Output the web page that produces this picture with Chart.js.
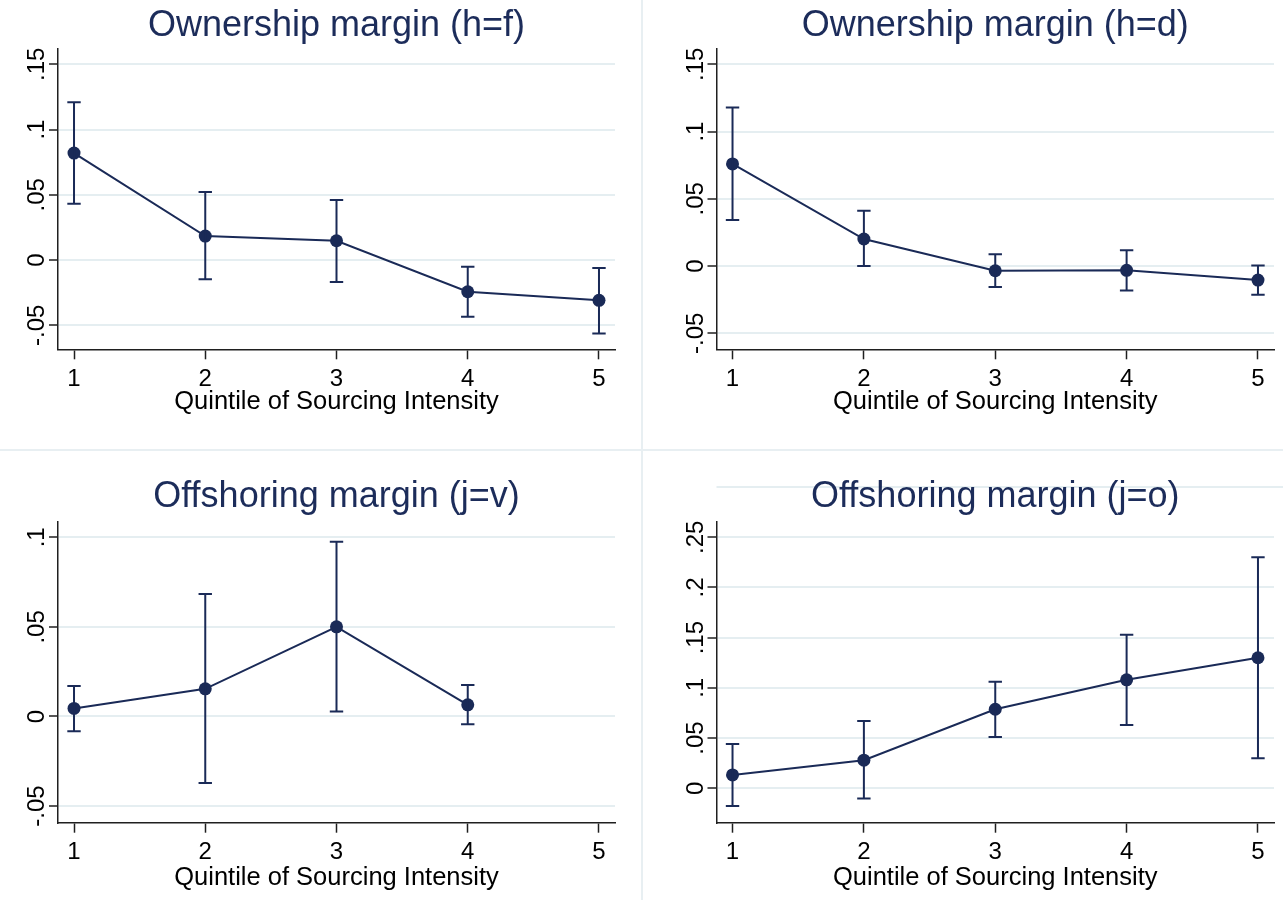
<!DOCTYPE html>
<html>
<head>
<meta charset="utf-8">
<script src="https://cdn.jsdelivr.net/npm/chart.js@4.4.1/dist/chart.umd.min.js"></script>
<style>
    html, body { margin: 0; padding: 0; background: #fff; }
    #wrap { position: relative; width: 1283px; height: 900px; overflow: hidden; background: #fff; }
    .panel { position: absolute; }
    .panel canvas { display: block; }
    .vsep { position: absolute; left: 641px; top: 0; width: 1.5px; height: 900px; background: #e8eff2; }
    .hsep { position: absolute; left: 0; top: 449px; width: 1283px; height: 1.5px; background: #e8eff2; }
</style>
</head>
<body>
<div id="wrap">
    <div class="vsep"></div>
    <div class="hsep"></div>
    <div class="panel" style="left:0;top:0"><canvas id="c1" width="641" height="450"></canvas></div>
    <div class="panel" style="left:641px;top:0"><canvas id="c2" width="642" height="450"></canvas></div>
    <div class="panel" style="left:0;top:450px"><canvas id="c3" width="641" height="450"></canvas></div>
    <div class="panel" style="left:641px;top:450px"><canvas id="c4" width="642" height="450"></canvas></div>
</div>
<script>
'use strict';

// x categories
const QUINTILES = [1, 2, 3, 4, 5];
const X_TITLE = 'Quintile of Sourcing Intensity';

// Ownership margin (h=f)
const OWN_F    = [0.082, 0.0184, 0.0148, -0.0243, -0.0309];
const OWN_F_LO = [0.0432, -0.0148, -0.0169, -0.0434, -0.0562];
const OWN_F_HI = [0.1209, 0.0521, 0.046, -0.0051, -0.0061];

// Ownership margin (h=d)
const OWN_D    = [0.0759, 0.0201, -0.0035, -0.0032, -0.0104];
const OWN_D_LO = [0.0342, 0.0, -0.0156, -0.0181, -0.0213];
const OWN_D_HI = [0.1179, 0.0412, 0.0087, 0.0117, 0.0005];

// Offshoring margin (j=v) -- no estimate for quintile 5
const OFF_V    = [0.0045, 0.0154, 0.050, 0.0065, null];
const OFF_V_LO = [-0.0082, -0.0372, 0.0028, -0.0043, null];
const OFF_V_HI = [0.017, 0.0683, 0.0975, 0.0175, null];

// Offshoring margin (j=o)
const OFF_O    = [0.0133, 0.028, 0.0787, 0.108, 0.130];
const OFF_O_LO = [-0.0176, -0.0103, 0.051, 0.063, 0.030];
const OFF_O_HI = [0.044, 0.067, 0.106, 0.153, 0.230];

// y tick values
const TICKS_OWN   = [-0.05, 0, 0.05, 0.1, 0.15];
const TICKS_OFF_V = [-0.05, 0, 0.05, 0.1];
const TICKS_OFF_O = [0, 0.05, 0.1, 0.15, 0.2, 0.25];

const NAVY = '#1a2a57';
const TITLE_COLOR = '#1c2c5a';
const GRID = '#e5eef1';
const AXIS = '#1f1f1f';
const FONT = '"Liberation Sans", Arial, Helvetica, sans-serif';

Chart.defaults.font.family = FONT;

// Stata style labels: .05, -.05, 0
function stataNum(v) {
    return Number(v.toFixed(3)).toString().replace(/^(-?)0\./, '$1.');
}

// y tick labels, rotated to read bottom to top
const yLabels = {
    id: 'yLabels',
    afterDraw(chart, args, opts) {
        const s = chart.scales.y;
        const ctx = chart.ctx;
        ctx.save();
        ctx.font = `${opts.size}px ${FONT}`;
        ctx.fillStyle = '#000';
        ctx.textAlign = 'center';
        ctx.textBaseline = 'middle';
        s.ticks.forEach(t => {
            const y = s.getPixelForValue(t.value);
            ctx.save();
            ctx.translate(s.right - opts.offset, y);
            ctx.rotate(-Math.PI / 2);
            ctx.fillText(stataNum(t.value), 0, 0);
            ctx.restore();
        });
        ctx.restore();
    }
};

// a grid line Stata left above the plot region (drawn under the title)
const extraGrid = {
    id: 'extraGrid',
    beforeDraw(chart, args, opts) {
        if (!opts.values || !opts.values.length) return;
        const s = chart.scales.y;
        const ctx = chart.ctx;
        ctx.save();
        ctx.strokeStyle = GRID;
        ctx.lineWidth = 2;
        opts.values.forEach(v => {
            const y = s.getPixelForValue(v);
            ctx.beginPath();
            ctx.moveTo(chart.chartArea.left, y);
            ctx.lineTo(chart.width, y);
            ctx.stroke();
        });
        ctx.restore();
    }
};

function makePanel(id, p) {
    const points = QUINTILES.map((q, i) => ({ x: q, y: p.est[i] })).filter(d => d.y !== null);
    const bars = QUINTILES
        .map((q, i) => ({ q, lo: p.lo[i], hi: p.hi[i] }))
        .filter(d => d.lo !== null)
        .map(d => ({
            data: [{ x: d.q, y: d.lo }, { x: d.q, y: d.hi }],
            borderColor: NAVY,
            borderWidth: 2,
            pointStyle: 'line',
            pointRadius: 6.7,
            pointBorderColor: NAVY,
            pointBorderWidth: 2,
            tension: 0,
        }));

    const top = p.row === 0;

    return new Chart(document.getElementById(id), {
        type: 'line',
        data: {
            datasets: [
                ...bars,
                {
                    data: points,
                    borderColor: NAVY,
                    borderWidth: 2,
                    pointRadius: 6.5,
                    pointBackgroundColor: NAVY,
                    pointBorderColor: NAVY,
                    pointBorderWidth: 0,
                    tension: 0,
                },
            ]
        },
        options: {
            responsive: false,
            animation: false,
            events: [],
            layout: { padding: { left: p.left ? 0 : 17.5, right: p.left ? 26 : 9, top: 0, bottom: 0 } },
            plugins: {
                legend: { display: false },
                tooltip: { enabled: false },
                title: {
                    display: true,
                    text: p.title,
                    fullSize: false,
                    color: TITLE_COLOR,
                    font: { size: 36, weight: 'normal', lineHeight: 1.2 },
                    padding: top ? { top: 4.4, bottom: 0.7 } : { top: 25.2, bottom: 3.3 },
                },
                yLabels: { size: 24, offset: 20.5 },
                extraGrid: { values: p.extra || [] },
            },
            scales: {
                x: {
                    type: 'linear',
                    min: 0.878,
                    max: 5.122,
                    afterBuildTicks: s => { s.ticks = QUINTILES.map(v => ({ value: v })); },
                    afterFit: s => { s.height = top ? 100.7 : 77.3; },
                    grid: { drawOnChartArea: false, drawTicks: true, tickLength: 10, tickColor: AXIS, tickWidth: 1.5 },
                    border: { display: true, color: AXIS, width: 1.5 },
                    ticks: { color: '#000', font: { size: 24 }, padding: top ? 6 : 5.2, maxRotation: 0, autoSkip: false },
                    title: {
                        display: true,
                        text: X_TITLE,
                        color: '#000',
                        font: { size: 25.5, lineHeight: 1.2 },
                        padding: { top: 0, bottom: top ? 33.2 : 6.7 },
                    },
                },
                y: {
                    type: 'linear',
                    min: p.ymin,
                    max: p.ymax,
                    afterBuildTicks: s => { s.ticks = p.ticks.map(v => ({ value: v })); },
                    afterFit: s => { s.width = 58; },
                    grid: { color: GRID, lineWidth: 2, drawTicks: true, tickLength: 9, tickColor: AXIS, tickWidth: 1.5 },
                    border: { display: true, color: AXIS, width: 1.5 },
                    ticks: { display: false },
                },
            },
        },
        plugins: [yLabels, extraGrid],
    });
}

makePanel('c1', { title: 'Ownership margin (h=f)', row: 0, left: true,
    est: OWN_F, lo: OWN_F_LO, hi: OWN_F_HI, ticks: TICKS_OWN, ymin: -0.0684, ymax: 0.1623 });
makePanel('c2', { title: 'Ownership margin (h=d)', row: 0, left: false,
    est: OWN_D, lo: OWN_D_LO, hi: OWN_D_HI, ticks: TICKS_OWN, ymin: -0.0619, ymax: 0.1619 });
makePanel('c3', { title: 'Offshoring margin (j=v)', row: 1, left: true,
    est: OFF_V, lo: OFF_V_LO, hi: OFF_V_HI, ticks: TICKS_OFF_V, ymin: -0.0593, ymax: 0.1087 });
makePanel('c4', { title: 'Offshoring margin (j=o)', row: 1, left: false,
    est: OFF_O, lo: OFF_O_LO, hi: OFF_O_HI, ticks: TICKS_OFF_O, ymin: -0.0343, ymax: 0.2655, extra: [0.3] });
</script>
</body>
</html>
